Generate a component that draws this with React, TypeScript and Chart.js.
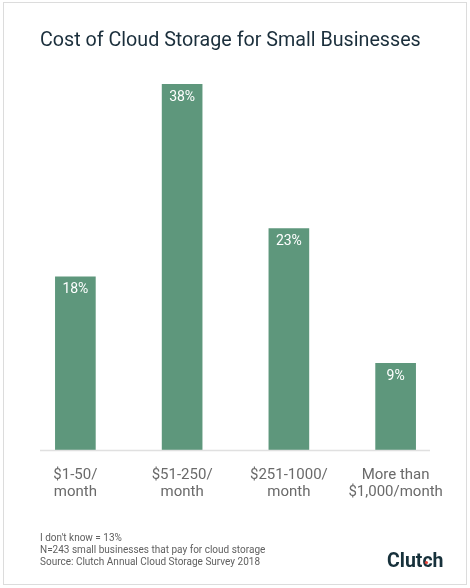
import React, { useEffect, useRef } from "react";
import { Chart, registerables } from "chart.js";

Chart.register(...registerables);

const categories: string[][] = [
  ["$1-50/", "month"],
  ["$51-250/", "month"],
  ["$251-1000/", "month"],
  ["More than", "$1,000/month"],
];
const values: number[] = [18, 38, 23, 9];
const valueLabels: string[] = ["18%", "38%", "23%", "9%"];
const titleText = "Cost of Cloud Storage for Small Businesses";
const notes: string[] = [
  "I don't know = 13%",
  "N=243 small businesses that pay for cloud storage",
  "Source: Clutch Annual Cloud Storage Survey 2018",
];
const logoText = "Clutch";

const FONT = "Roboto";
const BAR = "#5e977c";

const decorPlugin = {
  id: "decor",
  afterDraw(chart: any) {
    const ctx = chart.ctx as CanvasRenderingContext2D;
    ctx.save();
    // frame
    ctx.strokeStyle = "#dcdcdc";
    ctx.lineWidth = 1;
    ctx.strokeRect(3.5, 2.5, 463, 582);
    // baseline
    const yb = chart.scales.y.getPixelForValue(0);
    ctx.strokeStyle = "#e0e0e0";
    ctx.lineWidth = 1.5;
    ctx.beginPath();
    ctx.moveTo(40, yb + 0.5);
    ctx.lineTo(430, yb + 0.5);
    ctx.stroke();
    // title
    ctx.fillStyle = "#1b2f3c";
    ctx.font = `19.7px ${FONT}`;
    ctx.textAlign = "left";
    ctx.textBaseline = "middle";
    ctx.fillText(titleText, 40, 41);
    // value labels
    const meta = chart.getDatasetMeta(0);
    ctx.fillStyle = "#ffffff";
    ctx.font = `14px ${FONT}`;
    ctx.textAlign = "center";
    meta.data.forEach((bar: any, i: number) => {
      ctx.fillText(valueLabels[i], bar.x, bar.y + 13);
    });
    // notes
    ctx.fillStyle = "#606060";
    ctx.font = `10px ${FONT}`;
    ctx.textAlign = "left";
    notes.forEach((t, i) => ctx.fillText(t, 40, 538 + i * 12));
    // logo
    ctx.fillStyle = "#17313b";
    ctx.font = `bold 19.5px ${FONT}`;
    ctx.textAlign = "left";
    ctx.fillText(logoText, 387, 562);
    const w = ctx.measureText("Clut").width;
    ctx.fillStyle = "#e8443a";
    ctx.beginPath();
    ctx.arc(387 + w + 4, 562.5, 1.6, 0, Math.PI * 2);
    ctx.fill();
    ctx.restore();
  },
};

export default function App() {
  const ref = useRef<HTMLCanvasElement | null>(null);
  useEffect(() => {
    document.body.style.margin = "0";
    const chart = new Chart(ref.current as HTMLCanvasElement, {
      type: "bar",
      data: {
        labels: categories,
        datasets: [
          {
            data: values,
            backgroundColor: BAR,
            barThickness: 40,
          },
        ],
      },
      options: {
        animation: false,
        responsive: false,
        devicePixelRatio: 1,
        layout: { padding: { left: 22, right: 21, top: 65, bottom: 0 } },
        plugins: {
          legend: { display: false },
          tooltip: { enabled: false },
          title: { display: false },
        },
        scales: {
          x: {
            grid: { display: false },
            border: { display: false },
            ticks: {
              color: "#6a6a6a",
              font: { family: FONT, size: 15, lineHeight: 1.12 },
              padding: 9,
              maxRotation: 0,
              autoSkip: false,
            },
            afterFit: (scale: any) => {
              scale.height = 138;
            },
          },
          y: {
            display: false,
            min: 0,
            max: 40,
          },
        },
      },
      plugins: [decorPlugin],
    });
    return () => chart.destroy();
  }, []);
  return (
    <div style={{ width: 470, height: 588, background: "#fff" }}>
      <canvas ref={ref} width={470} height={588} style={{ display: "block" }} />
    </div>
  );
}
